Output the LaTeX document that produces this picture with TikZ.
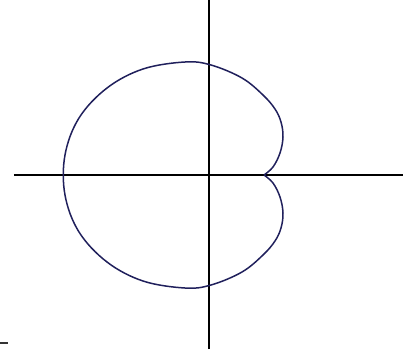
\documentclass[tikz,border=0pt]{standalone}
\usepackage{tikz}
\definecolor{curveblue}{RGB}{32,32,92}

\begin{document}
\begin{tikzpicture}[x=1pt,y=1pt]
	\useasboundingbox (-209,-174) rectangle (206,175);
	\coordinate (O) at (0,0);
	% axes
	\draw[line width=2.7pt] (-195,0) -- (194,0);
	\draw[line width=2.7pt] (0,-174) -- (0,175);
	\draw[line width=1.8pt, black!80] (-209,-168) -- (-201,-168);
	% the curve, cusp on the right
	\draw[curveblue, line width=1.5pt] plot[smooth, tension=0.6] coordinates {
		(55,0) (64,8) (71,22) (74,38) (72,53) (66,66) (54,80) (33,97)
		(2,110) (-24,113) (-66,106) (-102,87) (-130,57) (-144,20)
		(-144,-20) (-130,-57) (-102,-87) (-66,-106) (-24,-113) (2,-110)
		(33,-97) (54,-80) (66,-66) (72,-53) (74,-38) (71,-22) (64,-8) (55,0)};
\end{tikzpicture}
\end{document}
